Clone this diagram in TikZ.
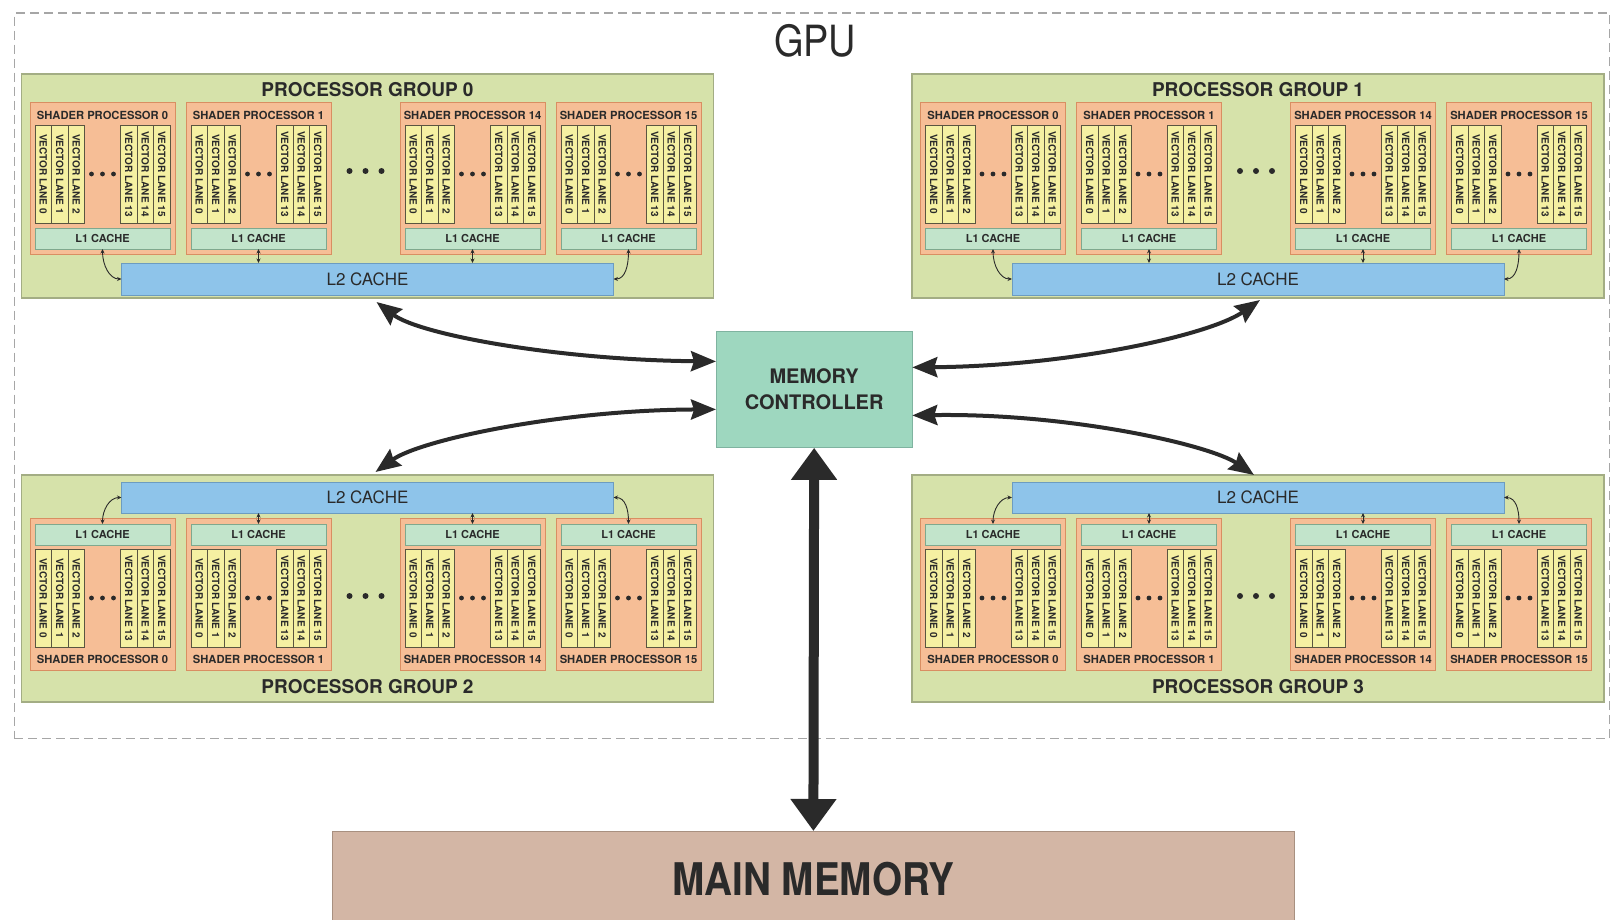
\documentclass[tikz,border=0pt]{standalone}
\usepackage{fontspec}
\setmainfont{TeX Gyre Heros}
\usepackage{graphicx}
\usetikzlibrary{arrows.meta}
\definecolor{grpfill}{HTML}{D6E2AA}
\definecolor{grpdraw}{HTML}{A3AD84}
\definecolor{spfill}{HTML}{F6BE96}
\definecolor{spdraw}{HTML}{D98E62}
\definecolor{lanefill}{HTML}{F5F0A2}
\definecolor{lanedraw}{HTML}{5A5540}
\definecolor{lonefill}{HTML}{C2E4CB}
\definecolor{lonedraw}{HTML}{7FA88E}
\definecolor{ltwofill}{HTML}{8EC4EA}
\definecolor{ltwodraw}{HTML}{6C9CC0}
\definecolor{mcfill}{HTML}{9ED7BF}
\definecolor{mcdraw}{HTML}{7FB3A0}
\definecolor{mmfill}{HTML}{D3B6A5}
\definecolor{mmdraw}{HTML}{A89080}
\definecolor{txt}{HTML}{2A2A2A}
\tikzset{
  gpubox/.style={draw=black!35, line width=1.2pt, dash pattern=on 9pt off 5pt, minimum width=1595.5pt, minimum height=725.5pt, inner sep=0pt, anchor=north west},
  grpbox/.style={draw=grpdraw, fill=grpfill, line width=1.2pt, minimum width=692pt, inner sep=0pt, outer sep=0pt, anchor=north west},
  grptitle/.style={text=txt, font=\fontsize{19}{20}\selectfont\bfseries, inner sep=0pt},
  spbox/.style={draw=spdraw, fill=spfill, line width=0.8pt, minimum width=145pt, minimum height=152pt, inner sep=0pt, outer sep=0pt, anchor=north west},
  sptitle/.style={text=txt, font=\fontsize{11.2}{12}\selectfont\bfseries, inner sep=0pt},
  lane/.style={draw=lanedraw, fill=lanefill, line width=0.7pt, rotate=-90, minimum width=98pt, minimum height=16.5pt, inner sep=0pt, outer sep=0pt, text=txt, font=\fontsize{10}{10}\selectfont\bfseries},
  lone/.style={draw=lonedraw, fill=lonefill, line width=0.8pt, minimum width=135pt, minimum height=21pt, inner sep=0pt, outer sep=0pt, anchor=north west, text=txt, font=\fontsize{11}{12}\selectfont\bfseries},
  ltwo/.style={draw=ltwodraw, fill=ltwofill, line width=0.8pt, minimum width=492pt, minimum height=32pt, inner sep=0pt, outer sep=0pt, anchor=north west, text=txt, font=\fontsize{17}{18}\selectfont},
  mcbox/.style={draw=mcdraw, fill=mcfill, line width=0.8pt, minimum width=195.5pt, minimum height=116pt, inner sep=0pt, anchor=north west, align=center, text=txt, font=\fontsize{20}{26}\selectfont\bfseries},
  mmbox/.style={draw=mmdraw, fill=mmfill, line width=0.8pt, minimum width=962pt, minimum height=96pt, inner sep=0pt, anchor=north west, text=txt, font=\fontsize{45}{48}\selectfont\bfseries},
  lconn/.style={draw=txt, line width=0.9pt, {Stealth[length=4.5pt,width=4pt]}-{Stealth[length=4.5pt,width=4pt]}},
  busarrow/.style={draw=txt, line width=4pt, {Stealth[length=25pt,width=20pt,inset=3pt]}-{Stealth[length=25pt,width=20pt,inset=3pt]}},
  bigbus/.style={draw=txt, line width=10pt, {Triangle[length=32pt,width=44pt]}-{Triangle[length=32pt,width=44pt]}},
}
\newcommand{\shaderunit}[5]{%
  \node[spbox] (#1) at ({#2},{#3}) {};
  \if#5t\def\lty{#3+126}\def\lny{#3+23}\def\tty{#3+13}%
  \else\def\lty{#3+6}\def\lny{#3+31}\def\tty{#3+141}\fi
  \node[sptitle] (#1t) at ({#2+72.5},{\tty}) {SHADER PROCESSOR #4};
  \foreach \k/\lab in {0/0,1/1,2/2}{\node[lane] (#1ln\lab) at ({#2+13.25+16.5*\k},{\lny+49}) {VECTOR LANE \lab};}
  \foreach \k/\lab in {0/13,1/14,2/15}{\node[lane] (#1ln\lab) at ({#2+98.75+16.5*\k},{\lny+49}) {VECTOR LANE \lab};}
  \foreach \dx in {-11,0,11}{\fill[txt] ({#2+72.5+\dx},{\lny+49}) circle[radius=2.4pt];}
  \node[lone] (#1l1) at ({#2+5},{\lty}) {L1 CACHE};
}
\newcommand{\procgroup}[5]{%
  \if#5t
    \node[grpbox, minimum height=224pt] (#1) at ({#2},{#3}) {};
    \node[grptitle] (#1t) at ({#2+346},{#3+15.5}) {PROCESSOR GROUP #4};
    \node[ltwo] (#1l2) at ({#2+100},{#3+189}) {L2 CACHE};
    \def\spy{#3+28}\def\gdy{#3+97}%
  \else
    \node[grpbox, minimum height=227pt] (#1) at ({#2},{#3}) {};
    \node[grptitle] (#1t) at ({#2+346},{#3+212}) {PROCESSOR GROUP #4};
    \node[ltwo, minimum height=31pt] (#1l2) at ({#2+100},{#3+7}) {L2 CACHE};
    \def\spy{#3+43}\def\gdy{#3+121}%
  \fi
  \shaderunit{#1sp0}{#2+8.5}{\spy}{0}{#5}%
  \shaderunit{#1sp1}{#2+164.5}{\spy}{1}{#5}%
  \shaderunit{#1sp14}{#2+378.5}{\spy}{14}{#5}%
  \shaderunit{#1sp15}{#2+534.5}{\spy}{15}{#5}%
  \foreach \dx in {-16,0,16}{\fill[txt] ({#2+344+\dx},{\gdy}) circle[radius=3pt];}
  \if#5t
    \draw[lconn] (#1sp0l1.south) .. controls +(0,16) and +(-12,0) .. (#1l2.west);
    \draw[lconn] (#1sp1l1.south) -- (#1sp1l1.south |- #1l2.north);
    \draw[lconn] (#1sp14l1.south) -- (#1sp14l1.south |- #1l2.north);
    \draw[lconn] (#1sp15l1.south) .. controls +(0,16) and +(12,0) .. (#1l2.east);
  \else
    \draw[lconn] (#1l2.west) .. controls +(-12,0) and +(0,-14) .. (#1sp0l1.north);
    \draw[lconn] (#1sp1l1.north |- #1l2.south) -- (#1sp1l1.north);
    \draw[lconn] (#1sp14l1.north |- #1l2.south) -- (#1sp14l1.north);
    \draw[lconn] (#1l2.east) .. controls +(12,0) and +(0,-14) .. (#1sp15l1.north);
  \fi
}
\begin{document}
\begin{tikzpicture}[x=1pt, y=-1pt]
\useasboundingbox (0,0) rectangle (1612,920);
\fill[white] (0,0) rectangle (1612,920);
\node[gpubox] (gpu) at (13.5,12.5) {};
\node[text=txt, font=\fontsize{43}{45}\selectfont, inner sep=0pt] (gputitle) at (815,41) {\scalebox{0.88}[1]{GPU}};
\procgroup{g0}{21.5}{74}{0}{t}
\procgroup{g1}{912}{74}{1}{t}
\procgroup{g2}{21.5}{475}{2}{b}
\procgroup{g3}{912}{475}{3}{b}
\node[mcbox] (mc) at (716,331) {MEMORY\\CONTROLLER};
\node[mmbox] (mm) at (332,831) {\scalebox{0.86}[1]{MAIN MEMORY}};
\draw[busarrow] ([xshift=9pt,yshift=-7pt]g0l2.south) .. controls (420,335) and (560,360) .. ([yshift=28pt]mc.west);
\draw[busarrow] ([yshift=22pt]mc.east) .. controls (1070,366) and (1210,335) .. ([xshift=2pt,yshift=-5pt]g1l2.south);
\draw[busarrow] ([xshift=8pt,yshift=10pt]g2l2.north) .. controls (420,440) and (560,410) .. ([yshift=-20pt]mc.west);
\draw[busarrow] ([yshift=-26pt]mc.east) .. controls (1070,413) and (1210,445) .. ([xshift=-4pt,yshift=7pt]g3l2.north);
\draw[bigbus] (mc.south) -- (mm.north);
\end{tikzpicture}
\end{document}
